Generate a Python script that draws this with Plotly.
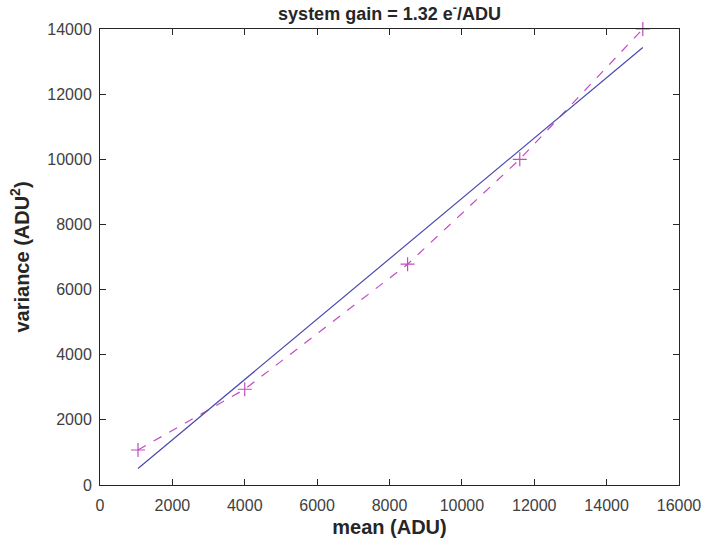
import plotly.graph_objects as go

# data
mean_adu = [1050, 4000, 8500, 11600, 15000]
variance_adu2 = [1075, 2940, 6780, 10000, 14000]
fit_x = [1050, 15000]
fit_y = [505, 13430]

x_ticks = [0, 2000, 4000, 6000, 8000, 10000, 12000, 14000, 16000]
y_ticks = [0, 2000, 4000, 6000, 8000, 10000, 12000, 14000]

FONT = "Liberation Sans, Arial, Helvetica, sans-serif"
MAG = "#C24BC2"
BLUE = "#4A4AB0"

fig = go.Figure()
fig.add_trace(go.Scatter(
    x=mean_adu, y=variance_adu2, mode="lines+markers",
    line=dict(color=MAG, width=1.2, dash="dash"),
    marker=dict(symbol="cross-thin", size=10, line=dict(color=MAG, width=1.2), color=MAG),
    showlegend=False, cliponaxis=False))
fig.add_trace(go.Scatter(
    x=fit_x, y=fit_y, mode="lines",
    line=dict(color=BLUE, width=1.2),
    showlegend=False))

axis_common = dict(
    showgrid=False, zeroline=False, showline=True, linecolor="#262626",
    linewidth=1, mirror="ticks", ticks="inside", ticklen=6, tickcolor="#262626",
    tickformat="d", automargin=False,
    tickfont=dict(family=FONT, size=16, color="#404040"),
)

fig.update_layout(
    width=705, height=545,
    margin=dict(l=100, r=26, t=29, b=60),
    paper_bgcolor="white", plot_bgcolor="white",
    title=dict(text="<b>system gain = 1.32 e<sup>-</sup>/ADU</b>",
               x=(100 + 679) / 2 / 705, xanchor="center", y=0.975, yanchor="middle",
               font=dict(family=FONT, size=18, color="#262626")),
    xaxis=dict(range=[0, 16000], tickvals=x_ticks, ticklabelstandoff=6,
               title=dict(text="<b>mean (ADU)</b>", font=dict(family=FONT, size=20, color="#262626"), standoff=6),
               **axis_common),
    yaxis=dict(range=[0, 14000], tickvals=y_ticks, ticklabelstandoff=4,
               title=dict(text="<b>variance (ADU<sup>2</sup>)</b>", font=dict(family=FONT, size=20, color="#262626"), standoff=12),
               **axis_common),
)

fig.write_html("out.html")
